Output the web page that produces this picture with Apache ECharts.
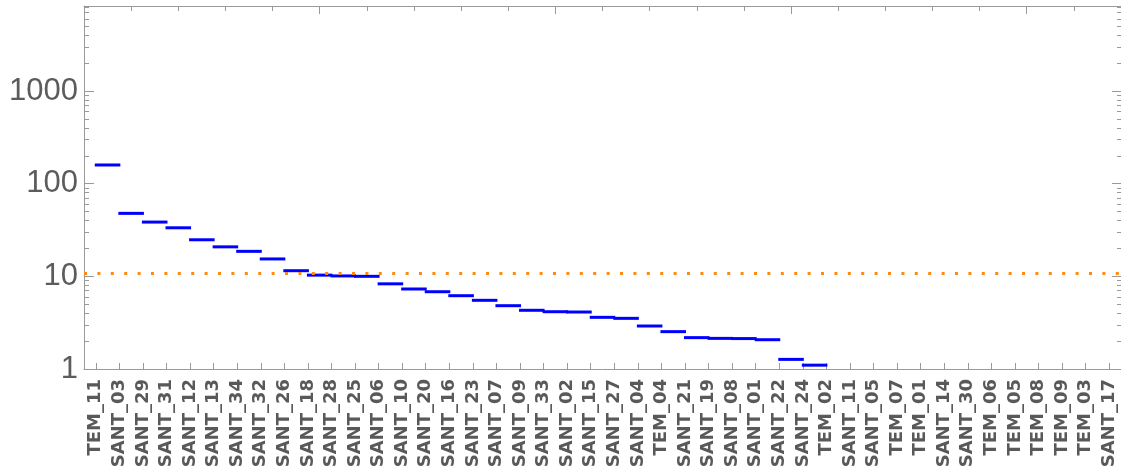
<!DOCTYPE html>
<html>
<head>
<meta charset="utf-8">
<script src="https://cdn.jsdelivr.net/npm/echarts@6/dist/echarts.min.js"></script>
<style>
html,body{margin:0;padding:0;background:#fff;}
#chart{width:1121px;height:473px;}
</style>
</head>
<body>
<div id="chart"></div>
<script>
const categories = ["TEM_11","SANT_03","SANT_29","SANT_31","SANT_12","SANT_13","SANT_34","SANT_32","SANT_26","SANT_18","SANT_28","SANT_25","SANT_06","SANT_10","SANT_20","SANT_16","SANT_23","SANT_07","SANT_09","SANT_33","SANT_02","SANT_15","SANT_27","SANT_04","TEM_04","SANT_21","SANT_19","SANT_08","SANT_01","SANT_22","SANT_24","TEM_02","SANT_11","SANT_05","TEM_07","TEM_01","SANT_14","SANT_30","TEM_06","TEM_05","TEM_08","TEM_09","TEM_03","SANT_17"];
const values = [159, 47.8, 38.5, 33.4, 24.8, 20.8, 18.6, 15.4, 11.5, 10.3, 10.1, 10.0, 8.3, 7.3, 6.82, 6.18, 5.51, 4.82, 4.30, 4.15, 4.12, 3.61, 3.52, 2.91, 2.53, 2.18, 2.14, 2.13, 2.07, 1.27, 1.10];
const thresholdValue = 10.75;
const yMajorTicks = [1, 10, 100, 1000];
const yMinorTicks = [2,3,4,5,6,7,8,9,20,30,40,50,60,70,80,90,200,300,400,500,600,700,800,900,2000,3000,4000,5000,6000,7000,8000];
const topMinorTicks = [2,4,6,8,12,14,16,18,22,24,26,28,32,34,36,38,42];
const topMajorTicks = [10,20,30,40];

const frameColor = '#9a9a9a';
const fontFam = "'Liberation Sans', Arial, sans-serif";
const chart = echarts.init(document.getElementById('chart'), null, {renderer:'canvas'});

function logAxis(pos, ticks, len, showLine, showLabel) {
  return {
    type: 'log', logBase: 10, min: 1, max: 8260, position: pos,
    axisLine: {show: showLine, lineStyle: {color: frameColor, width: 1}},
    axisTick: {show: true, inside: true, length: len, customValues: ticks, lineStyle: {color: frameColor, width: 1}},
    axisLabel: showLabel ? {show: true, customValues: ticks, fontSize: 31, color: '#5c5c5c', fontFamily: fontFam, margin: 6, formatter: function (v) { return String(Math.round(v)); }} : {show: false},
    splitLine: {show: false}
  };
}

const option = {
  animation: false,
  backgroundColor: '#ffffff',
  grid: {left: 84, top: 6, width: 1038, height: 363, containLabel: false},
  xAxis: [
    {
      type: 'category', data: categories, position: 'bottom', boundaryGap: true,
      axisLine: {show: true, lineStyle: {color: frameColor, width: 1}},
      axisTick: {show: true, inside: true, length: 6, alignWithLabel: true, interval: 0, lineStyle: {color: frameColor}},
      axisLabel: {show: true, interval: 0, rotate: 90, fontSize: 18, fontWeight: 'bold', color: '#595959', fontFamily: "'DejaVu Sans', sans-serif", margin: 10},
      splitLine: {show: false}
    },
    {
      type: 'value', position: 'top', min: 0, max: 44,
      axisLine: {show: true, lineStyle: {color: frameColor, width: 1}},
      axisTick: {show: true, inside: true, length: 5, customValues: topMinorTicks, lineStyle: {color: frameColor}},
      axisLabel: {show: false}, splitLine: {show: false}
    },
    {
      type: 'value', position: 'top', min: 0, max: 44,
      axisLine: {show: false},
      axisTick: {show: true, inside: true, length: 8, customValues: topMajorTicks, lineStyle: {color: frameColor}},
      axisLabel: {show: false}, splitLine: {show: false}
    }
  ],
  yAxis: [
    logAxis('left', yMajorTicks, 10, true, true),
    logAxis('left', yMinorTicks, 5, false, false),
    logAxis('right', yMajorTicks, 9, true, false),
    logAxis('right', yMinorTicks, 4, false, false)
  ],
  series: [
    {
      type: 'custom', xAxisIndex: 0, yAxisIndex: 0,
      data: values.map((v, i) => [i, v]),
      renderItem: function (params, api) {
        const p = api.coord([api.value(0), api.value(1)]);
        const w = api.size([1, 0])[0];
        return {
          type: 'line',
          shape: {x1: p[0] - 1, y1: p[1], x2: p[0] + w + 1, y2: p[1]},
          style: {stroke: '#0000ff', lineWidth: 3}
        };
      },
      markLine: {
        silent: true, symbol: 'none', label: {show: false},
        lineStyle: {color: '#ff8a10', width: 3, type: [3, 10.4]},
        data: [{yAxis: thresholdValue}]
      }
    }
  ]
};
chart.setOption(option);
</script>
</body>
</html>
